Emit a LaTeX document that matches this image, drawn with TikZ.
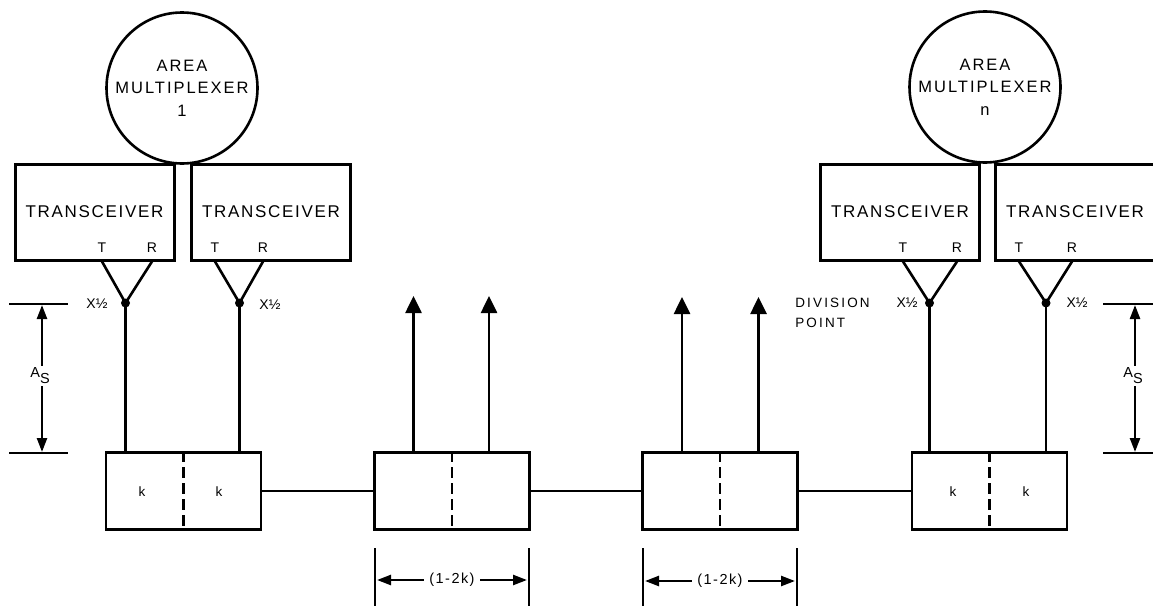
\documentclass[tikz,border=0pt]{standalone}
\usepackage{fontspec}
\setmainfont{Liberation Sans}
\newfontfamily\wide[LetterSpace=10]{Liberation Sans}
\newfontfamily\widec[LetterSpace=12]{Liberation Sans}
\newfontfamily\wider[LetterSpace=16]{Liberation Sans}
\usetikzlibrary{arrows.meta}
\begin{document}
\begin{tikzpicture}[x=1pt,y=-1pt,line width=2.6pt,
  mux/.style={draw,circle,line width=2.6pt,minimum size=151pt,inner sep=0pt,align=center,
    font=\widec\fontsize{16.5}{22.5}\selectfont},
  trx/.style={draw,rectangle,line width=3pt,minimum width=159pt,minimum height=96pt,inner sep=0pt,
    font=\wide\fontsize{17}{20}\selectfont},
  bbox/.style={draw,rectangle,line width=2.8pt,minimum width=155pt,minimum height=77pt,inner sep=0pt},
  divider/.style={line width=2.6pt,dash pattern=on 11pt off 5pt},
  tr/.style={inner sep=0pt,font=\wide\fontsize{14}{15}\selectfont},
  xlab/.style={inner sep=0pt,font=\fontsize{14}{14}\selectfont},
  klab/.style={inner sep=0pt,font=\fontsize{13.5}{14}\selectfont},
  dlab/.style={inner sep=0pt,font=\wider\fontsize{13.5}{20}\selectfont,align=left,anchor=west},
  dot/.style={circle,fill,inner sep=0pt,minimum size=9pt},
  upar/.style={-{Triangle[length=17pt,width=16pt]}},
  dimar/.style={{Triangle[length=14pt,width=10pt]}-{Triangle[length=14pt,width=10pt]},line width=2.4pt},
  dimtxt/.style={fill=white,inner sep=2pt,font=\wide\fontsize{14.5}{15}\selectfont}
]
\useasboundingbox (0,0) rectangle (1153,605);
\fill[white] (0,0) rectangle (1153,605);

% area multiplexers
\node[mux] (m1) at (182,88) {AREA\\MULTIPLEXER\\1};
\node[mux] (mn) at (985,87) {AREA\\MULTIPLEXER\\n};

% transceivers
\node[trx] (t1) at (94.5,212) {TRANSCEIVER};
\node[trx] (t2) at (271,212) {TRANSCEIVER};
\node[trx] (t3) at (900,212) {TRANSCEIVER};
\node[trx] (t4) at (1075,212) {TRANSCEIVER};

\node[tr] (t1T) at (102,248) {T}; \node[tr] (t1R) at (152,248) {R};
\node[tr] (t2T) at (215,248) {T}; \node[tr] (t2R) at (263,248) {R};
\node[tr] (t3T) at (903,248) {T}; \node[tr] (t3R) at (957,248) {R};
\node[tr] (t4T) at (1019,248) {T}; \node[tr] (t4R) at (1072,248) {R};

% junction dots
\node[dot] (d1) at (125.5,303) {};
\node[dot] (d2) at (239.5,303) {};
\node[dot] (d3) at (929.5,303) {};
\node[dot] (d4) at (1046,303) {};

% V connectors
\foreach \i in {1,2,3,4}{
  \draw[line join=miter] (t\i.south -| t\i T) -- (d\i.center) -- (t\i.south -| t\i R);
}

% X1/2 labels
\node[xlab] (x1) at (97,304) {X½};
\node[xlab] (x2) at (270,305) {X½};
\node[xlab] (x3) at (907,303) {X½};
\node[xlab] (x4) at (1077,303) {X½};
\node[dlab] (dv) at (794,313) {DIVISION\\POINT};

% bottom boxes
\node[bbox] (b1) at (183.5,491) {};
\node[bbox] (b2) at (452,491) {};
\node[bbox] (b3) at (720,491) {};
\node[bbox] (b4) at (989.5,491) {};
\foreach \i in {1,2,3,4}{
  \draw[divider] (b\i.north) -- (b\i.south);
}
\node[klab] (k1) at (142,492) {k};
\node[klab] (k2) at (219,492) {k};
\node[klab] (k3) at (953,492) {k};
\node[klab] (k4) at (1026,492) {k};

% verticals from dots to boxes
\draw (d1.center) -- (d1.center |- b1.north);
\draw (d2.center) -- (d2.center |- b1.north);
\draw (d3.center) -- (d3.center |- b4.north);
\draw (d4.center) -- (d4.center |- b4.north);

% upward arrows
\coordinate (u1) at (413.5,296);
\coordinate (u2) at (489,296);
\coordinate (u3) at (682,297);
\coordinate (u4) at (758.5,297);
\draw[upar] (b2.north -| u1) -- (u1);
\draw[upar] (b2.north -| u2) -- (u2);
\draw[upar] (b3.north -| u3) -- (u3);
\draw[upar] (b3.north -| u4) -- (u4);

% horizontal links
\draw (b1.east) -- (b2.west);
\draw (b2.east) -- (b3.west);
\draw (b3.east) -- (b4.west);

% A_S dimensions
\coordinate (la) at (9,304);  \coordinate (lb) at (68,304);
\coordinate (lc) at (9,453);  \coordinate (ld) at (68,453);
\draw (la) -- (lb); \draw (lc) -- (ld);
\coordinate (lt) at (42,305); \coordinate (lbt) at (42,452);
\draw[dimar] (lt) -- (lbt);
\node[dimtxt] (las) at (40,376) {A\raisebox{-6pt}{S}};

\coordinate (ra) at (1103,304); \coordinate (rb) at (1160,304);
\coordinate (rc) at (1103,453); \coordinate (rd) at (1160,453);
\draw (ra) -- (rb); \draw (rc) -- (rd);
\coordinate (rt) at (1135,305); \coordinate (rbt) at (1135,452);
\draw[dimar] (rt) -- (rbt);
\node[dimtxt] (ras) at (1133,376) {A\raisebox{-6pt}{S}};

% (1-2k) dimensions
\coordinate (p1a) at (375,548); \coordinate (p1b) at (375,610);
\coordinate (p2a) at (529,548); \coordinate (p2b) at (529,610);
\draw (p1a) -- (p1b); \draw (p2a) -- (p2b);
\coordinate (q1) at (377,580); \coordinate (q2) at (527,580);
\draw[dimar] (q1) -- (q2);
\node[dimtxt,inner xsep=5pt] (k12a) at (452,580) {(1-2k)};

\coordinate (p3a) at (643,548); \coordinate (p3b) at (643,610);
\coordinate (p4a) at (797,548); \coordinate (p4b) at (797,610);
\draw (p3a) -- (p3b); \draw (p4a) -- (p4b);
\coordinate (q3) at (645,581); \coordinate (q4) at (795,581);
\draw[dimar] (q3) -- (q4);
\node[dimtxt,inner xsep=5pt] (k12b) at (720,581) {(1-2k)};
\end{tikzpicture}
\end{document}
